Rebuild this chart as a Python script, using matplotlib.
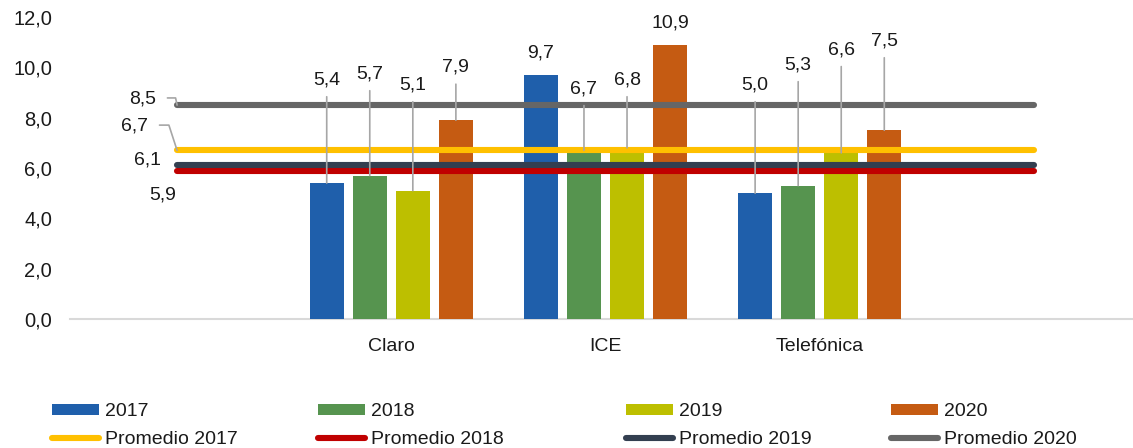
import matplotlib
matplotlib.use("Agg")
import matplotlib.pyplot as plt
from matplotlib.patches import Patch
from matplotlib.lines import Line2D
import numpy as np

# ---------------- data ----------------
categories = ["", "Claro", "ICE", "Telefónica", ""]
years = ["2017", "2018", "2019", "2020"]
v2017 = [None, 5.4, 9.7, 5.0, None]
v2018 = [None, 5.7, 6.7, 5.3, None]
v2019 = [None, 5.1, 6.8, 6.6, None]
v2020 = [None, 7.9, 10.9, 7.5, None]
promedios = [6.7, 5.9, 6.1, 8.5]          # Promedio 2017..2020
yticks = [0, 2, 4, 6, 8, 10, 12]

# ---------------- layout / style ----------------
bar_colors = ["#1F5FAB", "#56944F", "#BDBF00", "#C55B12"]
line_colors = ["#FFC000", "#C00000", "#333F50", "#666666"]
# label y positions (data units) for bar value labels, per year, per category
bar_label_y = [
    [None, 9.5, 10.58, 9.3, None],
    [None, 9.74, 9.15, 10.1, None],
    [None, 9.3, 9.5, 10.7, None],
    [None, 10.0, 11.77, 11.05, None],
]
# average label positions (x, y data) and leader angle (None = no leader)
avg_label_pos = [(-0.197, 7.67), (-0.066, 4.93), (-0.136, 6.32), (-0.16, 8.75)]
avg_leader_angle = [108, None, None, 102]

FS = 14
plt.rcParams["font.family"] = ["Liberation Sans", "DejaVu Sans"]
TXT = "#1a1a1a"

fig = plt.figure(figsize=(11.33, 4.48), dpi=100)
W, H = 1133, 448
ax = fig.add_axes([70 / W, (H - 319) / H, 1071 / W, (319 - 17) / H])

x = np.arange(len(categories))
series = [v2017, v2018, v2019, v2020]
pitch = 0.201
bw = 0.159
for i, vals in enumerate(series):
    xs = x + (i - 1.5) * pitch
    hv = [np.nan if v is None else v for v in vals]
    ax.bar(xs, hv, width=bw, color=bar_colors[i], linewidth=0, zorder=2)

for i, p in enumerate(promedios):
    ax.plot(x, [p] * len(x), color=line_colors[i], lw=4.4,
            solid_capstyle="round", zorder=3)

# bar value labels
for i, vals in enumerate(series):
    xs = x + (i - 1.5) * pitch
    for j, v in enumerate(vals):
        if v is None:
            continue
        ly = bar_label_y[i][j]
        lbl = f"{v:.1f}".replace(".", ",")
        if ly - v > 1.0:
            ax.annotate(lbl, xy=(xs[j], v), xytext=(xs[j], ly),
                        ha="center", va="center", fontsize=FS, color=TXT,
                        arrowprops=dict(arrowstyle="-", color="#A6A6A6", lw=1.2,
                                        shrinkA=4, shrinkB=0),
                        zorder=4)
        else:
            ax.text(xs[j], ly, lbl, ha="center", va="center", fontsize=FS,
                    color=TXT, zorder=4)

# average labels
for i, p in enumerate(promedios):
    lx, ly = avg_label_pos[i]
    lbl = f"{p:.1f}".replace(".", ",")
    ang = avg_leader_angle[i]
    if ang is not None:
        ax.annotate(lbl, xy=(0, p), xytext=(lx, ly), ha="center", va="center",
                    fontsize=FS, color=TXT,
                    arrowprops=dict(arrowstyle="-", color="#A6A6A6", lw=1.2,
                                    shrinkA=6, shrinkB=0, relpos=(1, 0.55),
                                    connectionstyle=f"angle,angleA=0,angleB={ang},rad=0"),
                    zorder=4)
    else:
        ax.text(lx, ly, lbl, ha="center", va="center", fontsize=FS, color=TXT)

ax.set_xlim(-0.5, len(categories) - 0.5)
ax.set_ylim(0, 12)
ax.set_yticks(yticks)
ax.set_yticklabels([f"{t:.1f}".replace(".", ",") for t in yticks],
                   fontsize=FS + 0.5, color=TXT)
ax.set_xticks(x)
ax.set_xticklabels(categories, fontsize=FS, color=TXT)
ax.tick_params(axis="both", length=0)
ax.tick_params(axis="y", pad=13)
ax.tick_params(axis="x", pad=14)
for s in ["top", "right", "left"]:
    ax.spines[s].set_visible(False)
ax.spines["bottom"].set_color("#D9D9D9")
ax.spines["bottom"].set_linewidth(1.5)
ax.spines["bottom"].set_zorder(1)

# legend: 4 columns, each with bar entry and line entry
col_x = [52, 318, 626, 891]
for i in range(4):
    handles = [Patch(facecolor=bar_colors[i], edgecolor="none"),
               Line2D([], [], color=line_colors[i], lw=4.4, solid_capstyle="round")]
    labels = [years[i], "Promedio " + years[i]]
    leg = fig.legend(handles, labels, loc="center left",
                     bbox_to_anchor=(col_x[i] / W, (H - 425.5) / H),
                     frameon=False, fontsize=FS, handlelength=2.42,
                     handleheight=0.5, handletextpad=0.3, labelspacing=0.55,
                     borderpad=0, borderaxespad=0)
    for t in leg.get_texts():
        t.set_color(TXT)

fig.savefig("out.png", dpi=100)
